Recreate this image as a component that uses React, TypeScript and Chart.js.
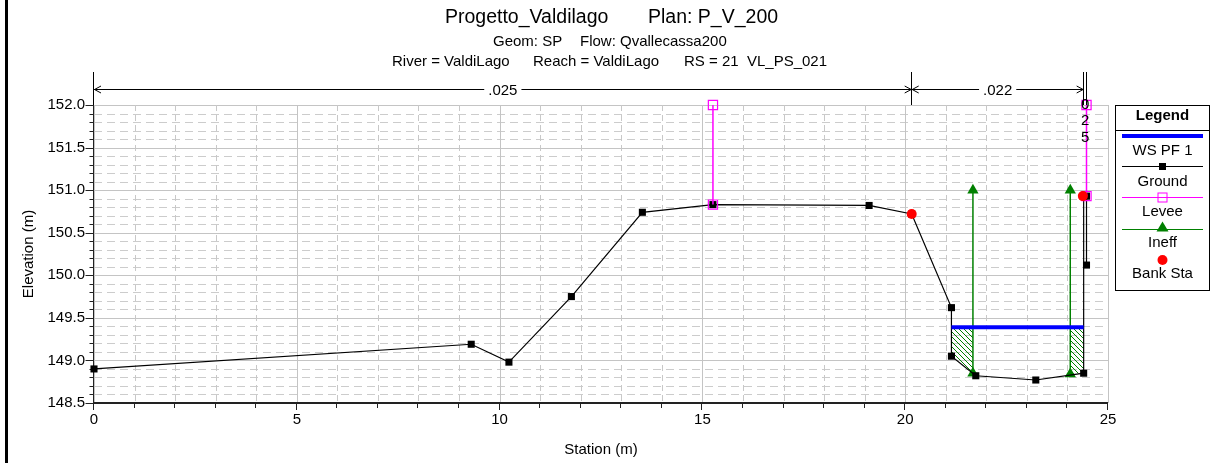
import React, { useEffect, useRef } from 'react';
import { Chart, registerables } from 'chart.js';

Chart.register(...registerables);

// ---------------- data ----------------
const groundStation = [0, 9.3, 10.23, 11.77, 13.52, 15.26, 19.11, 20.16, 21.14, 21.14, 21.74, 23.22, 24.4, 24.4, 24.47, 24.47];
const groundElev = [148.9, 149.19, 148.98, 149.75, 150.74, 150.83, 150.82, 150.72, 149.62, 149.05, 148.82, 148.77, 148.85, 150.93, 150.93, 150.12];

const wsStation = [21.14, 24.4];
const wsElev = [149.39, 149.39];

const leveeLeftStation = [15.26, 15.26];
const leveeLeftElev = [150.83, 152.0];
const leveeRightStation = [24.47, 24.47];
const leveeRightElev = [150.93, 152.0];

const ineffLeftStation = [21.67, 21.67];
const ineffLeftElev = [148.85, 151.0];
const ineffRightStation = [24.07, 24.07];
const ineffRightElev = [148.84, 151.0];

const bankStation = [20.16, 24.38];
const bankElev = [150.72, 150.93];

const hatchLeftStation = [21.14, 21.67, 21.67, 21.14, 21.14];
const hatchLeftElev = [149.39, 149.39, 148.85, 149.05, 149.39];
const hatchRightStation = [24.07, 24.4, 24.4, 24.07, 24.07];
const hatchRightElev = [149.39, 149.39, 148.85, 148.84, 149.39];

const nBoundaries = [0, 20.16, 24.4, 24.47];
const nValues = ['.025', '.022', '.025'];

const titleLine1 = ['Progetto_Valdilago', 'Plan: P_V_200'];
const titleLine2 = ['Geom: SP', 'Flow: Qvallecassa200'];
const titleLine3 = ['River = ValdiLago', 'Reach = ValdiLago', 'RS = 21  VL_PS_021'];
const legendItems = ['WS PF 1', 'Ground', 'Levee', 'Ineff', 'Bank Sta'];
const xTitle = 'Station (m)';
const yTitle = 'Elevation (m)';

const X_MIN = 0, X_MAX = 25, X_MAJOR = 5, X_MINOR = 1;
const Y_MIN = 148.5, Y_MAX = 152.0, Y_MAJOR = 0.5, Y_MINOR = 0.1;

// ---------------- styles ----------------
const FONT = "'Liberation Sans', Arial, sans-serif";
const C_WS = '#0000ff';
const C_GROUND = '#000000';
const C_LEVEE = '#ff00ff';
const C_INEFF = '#008000';
const C_BANK = '#ff0000';

const pts = (xs: number[], ys: number[]) => xs.map((x, i) => ({ x, y: ys[i] }));

function makeHatch(): CanvasPattern | string {
  const c = document.createElement('canvas');
  const s = 5;
  c.width = s;
  c.height = s;
  const g = c.getContext('2d');
  if (!g) return 'rgba(0,128,0,0.3)';
  g.strokeStyle = C_INEFF;
  g.lineWidth = 1;
  g.beginPath();
  for (const k of [-s, 0, s]) {
    g.moveTo(k, 0);
    g.lineTo(k + s, s);
  }
  g.stroke();
  return g.createPattern(c, 'repeat') || 'rgba(0,128,0,0.3)';
}

const decoPlugin = {
  id: 'hecDeco',
  beforeDraw(chart: any) {
    const ctx = chart.ctx as CanvasRenderingContext2D;
    ctx.save();
    ctx.fillStyle = '#ffffff';
    ctx.fillRect(0, 0, chart.width, chart.height);
    ctx.fillStyle = '#000000';
    ctx.fillRect(5, 0, 3, chart.height);

    // titles
    ctx.textAlign = 'left';
    ctx.textBaseline = 'alphabetic';
    ctx.fillStyle = '#000';
    ctx.font = `19.5px ${FONT}`;
    const l1 = [445, 648];
    titleLine1.forEach((t, i) => ctx.fillText(t, l1[i], 23));
    ctx.font = `15px ${FONT}`;
    const l2 = [493, 580];
    titleLine2.forEach((t, i) => ctx.fillText(t, l2[i], 45.5));
    const l3 = [392, 533, 684];
    titleLine3.forEach((t, i) => ctx.fillText(t, l3[i], 66));
    ctx.restore();
  },
  beforeDatasetsDraw(chart: any) {
    const ctx = chart.ctx as CanvasRenderingContext2D;
    const a = chart.chartArea;
    const xs = chart.scales.x;
    const ys = chart.scales.y;
    ctx.save();
    ctx.lineWidth = 1;
    // horizontal grid
    const ny = Math.round((Y_MAX - Y_MIN) / Y_MINOR);
    const perY = Math.round(Y_MAJOR / Y_MINOR);
    for (let k = 0; k <= ny; k++) {
      const py = Math.round(ys.getPixelForValue(Y_MIN + k * Y_MINOR)) + 0.5;
      if (k % perY === 0) {
        ctx.setLineDash([]);
        ctx.strokeStyle = '#c4c4c4';
      } else {
        ctx.setLineDash([8, 5]);
        ctx.strokeStyle = '#cccccc';
      }
      ctx.beginPath();
      ctx.moveTo(a.left, py);
      ctx.lineTo(a.right, py);
      ctx.stroke();
    }
    // vertical grid
    const nx = Math.round((X_MAX - X_MIN) / X_MINOR);
    const perX = Math.round(X_MAJOR / X_MINOR);
    for (let k = 0; k <= nx; k++) {
      const px = Math.round(xs.getPixelForValue(X_MIN + k * X_MINOR)) + 0.5;
      if (k % perX === 0) {
        ctx.setLineDash([]);
        ctx.strokeStyle = '#c4c4c4';
      } else {
        ctx.setLineDash([6, 4]);
        ctx.strokeStyle = '#c8c8c8';
      }
      ctx.beginPath();
      ctx.moveTo(px, a.top);
      ctx.lineTo(px, a.bottom);
      ctx.stroke();
    }
    ctx.setLineDash([]);
    // axes
    ctx.strokeStyle = '#222';
    ctx.lineWidth = 1;
    const lx = Math.round(a.left) - 0.5;
    ctx.beginPath();
    ctx.moveTo(lx, a.top);
    ctx.lineTo(lx, a.bottom + 1);
    ctx.stroke();
    ctx.lineWidth = 2;
    ctx.beginPath();
    ctx.moveTo(a.left - 1, Math.round(a.bottom));
    ctx.lineTo(a.right, Math.round(a.bottom));
    ctx.stroke();
    // ticks
    ctx.lineWidth = 1;
    for (let k = 0; k <= ny; k++) {
      const py = Math.round(ys.getPixelForValue(Y_MIN + k * Y_MINOR)) + 0.5;
      const len = k % perY === 0 ? 8 : 4;
      ctx.beginPath();
      ctx.moveTo(lx - len, py);
      ctx.lineTo(lx, py);
      ctx.stroke();
    }
    for (let k = 0; k <= nx; k++) {
      const px = Math.round(xs.getPixelForValue(X_MIN + k * X_MINOR)) - 0.5;
      const len = k % perX === 0 ? 7 : 5;
      ctx.beginPath();
      ctx.moveTo(px, a.bottom);
      ctx.lineTo(px, a.bottom + len);
      ctx.stroke();
    }
    ctx.restore();
  },
  afterDraw(chart: any) {
    const ctx = chart.ctx as CanvasRenderingContext2D;
    const a = chart.chartArea;
    const xs = chart.scales.x;
    ctx.save();
    ctx.fillStyle = '#000';
    ctx.strokeStyle = '#000';

    // axis titles
    ctx.font = `15px ${FONT}`;
    ctx.textAlign = 'center';
    ctx.textBaseline = 'alphabetic';
    ctx.fillText(xTitle, (a.left + a.right) / 2, 454);
    ctx.save();
    ctx.translate(33, (a.top + a.bottom) / 2);
    ctx.rotate(-Math.PI / 2);
    ctx.fillText(yTitle, 0, 0);
    ctx.restore();

    // Manning's n annotations
    const yLine = 89.5;
    ctx.lineWidth = 1;
    nBoundaries.forEach((s) => {
      const px = Math.round(xs.getPixelForValue(s)) - 0.5;
      ctx.beginPath();
      ctx.moveTo(px, 72);
      ctx.lineTo(px, a.top);
      ctx.stroke();
    });
    ctx.font = `15px ${FONT}`;
    nValues.forEach((v, i) => {
      const x0 = xs.getPixelForValue(nBoundaries[i]);
      const x1 = xs.getPixelForValue(nBoundaries[i + 1]);
      if (x1 - x0 > 30) {
        const mid = (x0 + x1) / 2;
        const w = ctx.measureText(v).width + 8;
        ctx.beginPath();
        ctx.moveTo(x0, yLine);
        ctx.lineTo(mid - w / 2, yLine);
        ctx.moveTo(mid + w / 2, yLine);
        ctx.lineTo(x1, yLine);
        // arrowheads
        ctx.moveTo(x0 + 7, yLine - 3.5);
        ctx.lineTo(x0 + 0.5, yLine);
        ctx.lineTo(x0 + 7, yLine + 3.5);
        ctx.moveTo(x1 - 7, yLine - 3.5);
        ctx.lineTo(x1 - 0.5, yLine);
        ctx.lineTo(x1 - 7, yLine + 3.5);
        ctx.stroke();
        ctx.textAlign = 'center';
        ctx.textBaseline = 'middle';
        ctx.fillText(v, mid, yLine + 1);
      } else {
        const mid = (x0 + x1) / 2;
        ctx.textAlign = 'center';
        ctx.textBaseline = 'middle';
        const chars = v.replace('.', '').split('');
        chars.forEach((ch, j) => ctx.fillText(ch, mid, 105 + j * 16.3));
      }
    });

    // legend
    const L = 1115.5, T = 105.5, W = 94, H = 185;
    ctx.fillStyle = '#fff';
    ctx.fillRect(L, T, W, H);
    ctx.strokeStyle = '#000';
    ctx.lineWidth = 1;
    ctx.strokeRect(L, T, W, H);
    ctx.beginPath();
    ctx.moveTo(L, 130.5);
    ctx.lineTo(L + W, 130.5);
    ctx.stroke();
    const cx = L + W / 2;
    ctx.fillStyle = '#000';
    ctx.textAlign = 'center';
    ctx.textBaseline = 'middle';
    ctx.font = `bold 15px ${FONT}`;
    ctx.fillText('Legend', cx, 116);
    ctx.font = `15px ${FONT}`;
    const x0 = 1122, x1 = 1203;
    // WS
    ctx.strokeStyle = C_WS;
    ctx.lineWidth = 4;
    ctx.beginPath();
    ctx.moveTo(x0, 136);
    ctx.lineTo(x1, 136);
    ctx.stroke();
    ctx.fillText(legendItems[0], cx, 151);
    // Ground
    ctx.strokeStyle = C_GROUND;
    ctx.lineWidth = 1;
    ctx.beginPath();
    ctx.moveTo(x0, 166.5);
    ctx.lineTo(x1, 166.5);
    ctx.stroke();
    ctx.fillStyle = C_GROUND;
    ctx.fillRect(cx - 3.5, 163, 7, 7);
    ctx.fillStyle = '#000';
    ctx.fillText(legendItems[1], cx, 182);
    // Levee
    ctx.strokeStyle = C_LEVEE;
    ctx.lineWidth = 1;
    ctx.beginPath();
    ctx.moveTo(x0, 197.5);
    ctx.lineTo(x1, 197.5);
    ctx.stroke();
    ctx.strokeRect(cx - 4.5, 193, 9, 9);
    ctx.fillText(legendItems[2], cx, 212);
    // Ineff
    ctx.strokeStyle = C_INEFF;
    ctx.beginPath();
    ctx.moveTo(x0, 229.5);
    ctx.lineTo(x1, 229.5);
    ctx.stroke();
    ctx.fillStyle = C_INEFF;
    ctx.beginPath();
    ctx.moveTo(cx, 221.5);
    ctx.lineTo(cx + 6, 231.5);
    ctx.lineTo(cx - 6, 231.5);
    ctx.closePath();
    ctx.fill();
    ctx.fillStyle = '#000';
    ctx.fillText(legendItems[3], cx, 243);
    // Bank
    ctx.fillStyle = C_BANK;
    ctx.beginPath();
    ctx.arc(cx, 260, 5, 0, Math.PI * 2);
    ctx.fill();
    ctx.fillStyle = '#000';
    ctx.fillText(legendItems[4], cx, 274);

    ctx.restore();
  },
};

export default function App() {
  const ref = useRef<HTMLCanvasElement | null>(null);

  useEffect(() => {
    if (!ref.current) return;
    const hatch = makeHatch();
    const lineDs = (label: string, xs: number[], ys: number[], extra: any) => ({
      label,
      data: pts(xs, ys),
      showLine: true,
      clip: false,
      tension: 0,
      ...extra,
    });
    const leveeStyle = {
      borderColor: C_LEVEE,
      borderWidth: 1.5,
      pointStyle: 'rect',
      pointRadius: 6.5,
      pointBackgroundColor: 'rgba(0,0,0,0)',
      pointBorderColor: C_LEVEE,
      pointBorderWidth: 1.2,
    };
    const ineffStyle = {
      borderColor: C_INEFF,
      borderWidth: 1.5,
      pointStyle: 'triangle',
      pointRadius: 6.5,
      pointBackgroundColor: C_INEFF,
      pointBorderColor: C_INEFF,
      pointBorderWidth: 0,
    };
    const hatchStyle = {
      borderWidth: 0,
      borderColor: 'rgba(0,0,0,0)',
      pointRadius: 0,
      fill: 'shape',
      backgroundColor: hatch,
      clip: 0,
    };
    const chart = new Chart(ref.current, {
      type: 'scatter',
      data: {
        datasets: [
          {
            label: 'Bank Sta',
            data: pts(bankStation, bankElev),
            showLine: false,
            clip: false,
            pointStyle: 'circle',
            pointRadius: 5,
            pointBackgroundColor: C_BANK,
            pointBorderColor: C_BANK,
            pointBorderWidth: 0,
          },
          lineDs('WS PF 1', wsStation, wsElev, { borderColor: C_WS, borderWidth: 4, pointRadius: 0 }),
          lineDs('Levee', leveeLeftStation, leveeLeftElev, leveeStyle),
          lineDs('Levee R', leveeRightStation, leveeRightElev, leveeStyle),
          lineDs('Ground', groundStation, groundElev, {
            borderColor: C_GROUND,
            borderWidth: 1.2,
            pointStyle: 'rect',
            pointRadius: 5,
            pointBackgroundColor: C_GROUND,
            pointBorderColor: C_GROUND,
            pointBorderWidth: 0,
          }),
          lineDs('Ineff', ineffLeftStation, ineffLeftElev, ineffStyle),
          lineDs('Ineff R', ineffRightStation, ineffRightElev, ineffStyle),
          lineDs('Ineff area L', hatchLeftStation, hatchLeftElev, hatchStyle),
          lineDs('Ineff area R', hatchRightStation, hatchRightElev, hatchStyle),
        ],
      },
      options: {
        responsive: false,
        animation: false,
        devicePixelRatio: 1,
        events: [],
        layout: { padding: { left: 0, top: 105, right: 107, bottom: 0 } },
        plugins: {
          legend: { display: false },
          tooltip: { enabled: false },
          title: { display: false },
        },
        scales: {
          x: {
            type: 'linear',
            min: X_MIN,
            max: X_MAX,
            afterFit: (s: any) => {
              s.height = 60;
            },
            grid: { display: false, drawTicks: false },
            border: { display: false },
            ticks: {
              stepSize: X_MAJOR,
              padding: 8,
              color: '#000',
              font: { family: FONT, size: 15 },
              callback: (v: any) => String(v),
            },
          },
          y: {
            type: 'linear',
            min: Y_MIN,
            max: Y_MAX,
            afterFit: (s: any) => {
              s.width = 94;
            },
            grid: { display: false, drawTicks: false },
            border: { display: false },
            ticks: {
              stepSize: Y_MAJOR,
              padding: 9,
              color: '#000',
              font: { family: FONT, size: 15 },
              callback: (v: any) => Number(v).toFixed(1),
            },
          },
        },
      } as any,
      plugins: [decoPlugin],
    });
    return () => chart.destroy();
  }, []);

  return (
    <div style={{ position: 'fixed', left: 0, top: 0, width: 1215, height: 463, background: '#fff' }}>
      <canvas ref={ref} width={1215} height={463} style={{ display: 'block' }} />
    </div>
  );
}
